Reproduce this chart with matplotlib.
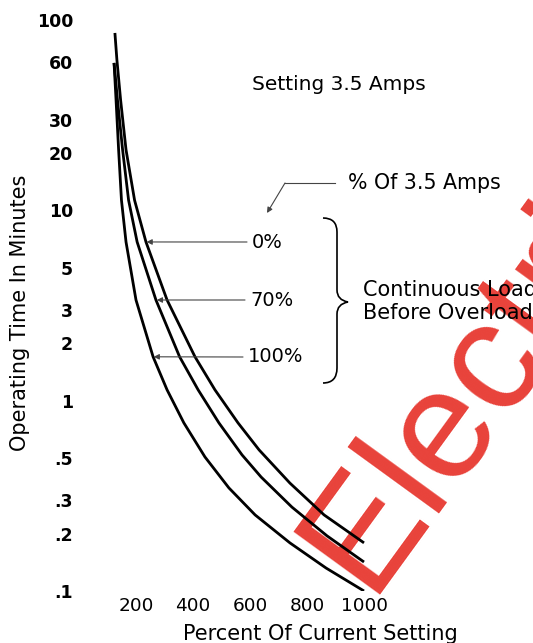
import matplotlib
matplotlib.use("Agg")
import matplotlib.pyplot as plt
from matplotlib.path import Path
from matplotlib.patches import PathPatch
from matplotlib.lines import Line2D

W, H = 533, 643

# ---- data ----
pct_load_0 = [126, 133, 146, 165, 195, 235, 309, 407, 477, 558, 632, 740, 860, 1000]
time_load_0 = [85.5, 61.7, 38.0, 20.8, 11.3, 6.82, 3.38, 1.70, 1.14, 0.764, 0.551, 0.369, 0.251, 0.179]

pct_load_70 = [123, 135, 153, 174, 204, 270, 353, 418, 491, 572, 639, 747, 870, 1000]
time_load_70 = [59.5, 38.0, 20.8, 11.3, 6.82, 3.38, 1.70, 1.14, 0.764, 0.519, 0.397, 0.276, 0.195, 0.142]

pct_load_100 = [123, 130, 139, 149, 165, 200, 260, 309, 368, 442, 526, 618, 740, 867, 1000]
time_load_100 = [59.5, 38.0, 20.8, 11.3, 6.82, 3.38, 1.70, 1.14, 0.764, 0.506, 0.348, 0.251, 0.179, 0.132, 0.100]

x_ticks = [200, 400, 600, 800, 1000]
x_tick_labels = ["200", "400", "600", "800", "1000"]
y_ticks = [100, 60, 30, 20, 10, 5, 3, 2, 1, 0.5, 0.3, 0.2, 0.1]
y_tick_labels = ["100", "60", "30", "20", "10", "5", "3", "2", "1", ".5", ".3", ".2", ".1"]

series_labels = ["0%", "70%", "100%"]


def fx(px):
    return px / W


def fy(py):
    return 1 - py / H


fig = plt.figure(figsize=(W / 100, H / 100), dpi=100)
ax = fig.add_axes([fx(107.5), fy(591), 285 / W, 571 / H])
ax.patch.set_visible(False)
ax.set_yscale("log")
ax.set_xlim(100, 1100)
ax.set_ylim(0.1, 100)
for s in ax.spines.values():
    s.set_visible(False)

for xs, ys in [(pct_load_0, time_load_0), (pct_load_70, time_load_70),
               (pct_load_100, time_load_100)]:
    ax.plot(xs, ys, color="black", lw=2.0, solid_capstyle="butt",
            solid_joinstyle="round")

ax.set_xticks(x_ticks)
ax.set_xticklabels(x_tick_labels)
ax.set_yticks(y_ticks)
ax.set_yticklabels(y_tick_labels)
ax.minorticks_off()
ax.tick_params(axis="both", length=0)
ax.tick_params(axis="y", pad=24.8, labelsize=12.5)
ax.tick_params(axis="x", pad=4.5, labelsize=13.3)
for t in ax.get_yticklabels():
    t.set_fontweight("bold")

# axis titles
fig.text(fx(20), fy(313), "Operating Time In Minutes", rotation=90,
         ha="center", va="center", fontsize=15)
fig.text(fx(320), fy(634), "Percent Of Current Setting",
         ha="center", va="center", fontsize=15)

# annotations
fig.text(fx(252), fy(84), "Setting 3.5 Amps", ha="left", va="center", fontsize=14.5)
fig.text(fx(348), fy(183), "% Of 3.5 Amps", ha="left", va="center", fontsize=14.8)
fig.text(fx(363), fy(290), "Continuous Load", ha="left", va="center", fontsize=15)
fig.text(fx(363), fy(313), "Before Overload", ha="left", va="center", fontsize=15)

label_pos = [(252, 242), (250, 300), (248, 357)]
tips = [(237, 6.82), (273, 3.38), (262, 1.70)]
for lab, (lx, ly), tip in zip(series_labels, label_pos, tips):
    fig.text(fx(lx), fy(ly), lab, ha="left", va="center", fontsize=14)
    ax.annotate("", xy=tip, xycoords="data",
                xytext=(fx(lx - 5), fy(ly)), textcoords="figure fraction",
                arrowprops=dict(arrowstyle="-|>", lw=0.8, color="#444444",
                                mutation_scale=8, shrinkA=0, shrinkB=0))

# "% Of 3.5 Amps" pointer
fig.add_artist(Line2D([fx(335), fx(285)], [fy(183), fy(183)], color="#444444", lw=0.8))
ax.annotate("", xy=(fx(267), fy(213)), xycoords="figure fraction",
            xytext=(fx(285), fy(183)), textcoords="figure fraction",
            arrowprops=dict(arrowstyle="-|>", lw=0.8, color="#444444",
                            mutation_scale=8, shrinkA=0, shrinkB=0))

# brace
bp = [(323, 218), (337, 218), (337, 232), (337, 290), (337, 300), (348, 302),
      (337, 304), (337, 314), (337, 368), (337, 383), (323, 383)]
codes = [Path.MOVETO, Path.CURVE3, Path.CURVE3, Path.LINETO, Path.CURVE3, Path.CURVE3,
         Path.CURVE3, Path.CURVE3, Path.LINETO, Path.CURVE3, Path.CURVE3]
verts = [(fx(a), fy(b)) for a, b in bp]
fig.add_artist(PathPatch(Path(verts, codes), fill=False, lw=1.2, edgecolor="black",
                         transform=fig.transFigure))

# watermark
fig.text(fx(368), fy(595), "Electrical", rotation=54, rotation_mode="anchor",
         ha="left", va="baseline", fontsize=112, family="Liberation Sans",
         color="#e8423a", zorder=-1)

fig.savefig("out.png", dpi=100)
